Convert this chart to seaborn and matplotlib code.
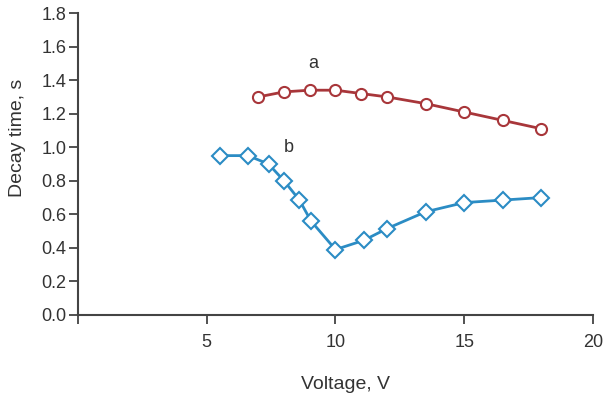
import matplotlib
matplotlib.use("Agg")
import matplotlib.pyplot as plt
import seaborn as sns
import pandas as pd

volt_a = [7, 8, 9, 10, 11, 12, 13.5, 15, 16.5, 18]
decay_a = [1.30, 1.33, 1.34, 1.34, 1.32, 1.30, 1.26, 1.21, 1.16, 1.11]
volt_b = [5.5, 6.6, 7.4, 8.0, 8.6, 9.05, 10, 11.1, 12, 13.5, 15, 16.5, 18]
decay_b = [0.95, 0.95, 0.90, 0.80, 0.685, 0.56, 0.39, 0.445, 0.515, 0.615, 0.67, 0.685, 0.70]
xticks = [0, 5, 10, 15, 20]
xticklabels = ["", "5", "10", "15", "20"]
yticks = [0.0, 0.2, 0.4, 0.6, 0.8, 1.0, 1.2, 1.4, 1.6, 1.8]

sns.set_style("ticks")
plt.rcParams['font.family'] = ['Liberation Sans', 'DejaVu Sans']

df_a = pd.DataFrame({"V": volt_a, "t": decay_a})
df_b = pd.DataFrame({"V": volt_b, "t": decay_b})

fig = plt.figure(figsize=(6.06, 4.01), dpi=100)
ax = fig.add_axes([0.1287, 0.2145, 0.8498, 0.753])

red = "#a8363a"
blue = "#2b8cc4"
sns.lineplot(data=df_a, x="V", y="t", ax=ax, color=red, lw=2,
             marker="o", markersize=8, markerfacecolor="white",
             markeredgecolor=red, markeredgewidth=1.5)
sns.lineplot(data=df_b, x="V", y="t", ax=ax, color=blue, lw=2,
             marker="D", markersize=8, markerfacecolor="white",
             markeredgecolor=blue, markeredgewidth=1.5)

ax.text(9.14, 1.50, "a", fontsize=13, color="#333333", ha="center", va="center")
ax.text(8.17, 1.00, "b", fontsize=13, color="#333333", ha="center", va="center")

ax.set_xlim(0, 20)
ax.set_ylim(0, 1.8)
ax.set_xticks(xticks)
ax.set_xticklabels(xticklabels)
ax.set_yticks(yticks)
ax.set_yticklabels([f"{v:.1f}" for v in yticks])
ax.tick_params(labelsize=13, colors="#333333", length=6.5, width=1.2)
ax.tick_params(axis="x", pad=7)
ax.tick_params(axis="y", pad=2)
for s in ["top", "right"]:
    ax.spines[s].set_visible(False)
for s in ["left", "bottom"]:
    ax.spines[s].set_color("#444444")
    ax.spines[s].set_linewidth(1.5)

ax.set_xlabel("Voltage, V", fontsize=14, color="#333333")
ax.set_ylabel("Decay time, s", fontsize=14, color="#333333")
ax.xaxis.set_label_coords(0.52, -0.202)
ax.yaxis.set_label_coords(-0.10, 0.586)

fig.savefig("out.png", dpi=100)
